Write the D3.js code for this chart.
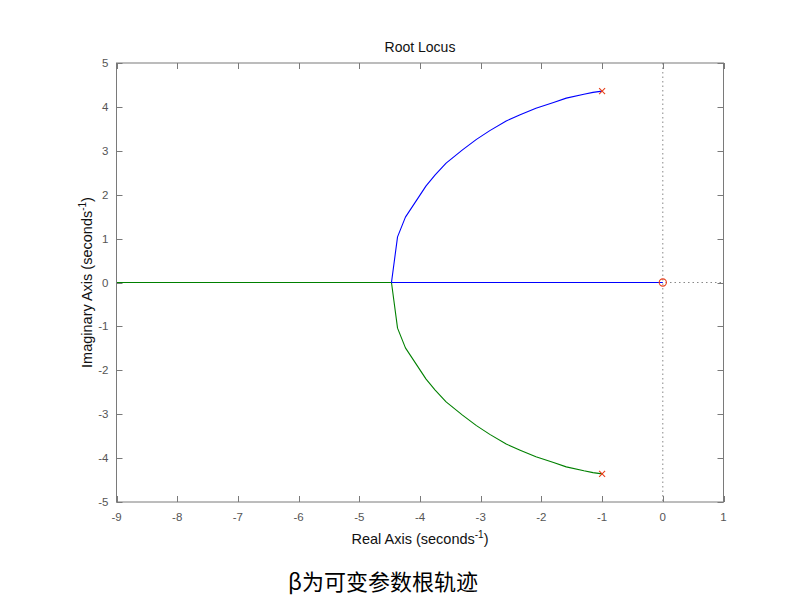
<!DOCTYPE html>
<html><head><meta charset="utf-8">
<script src="https://cdn.jsdelivr.net/npm/d3@7"></script>
<style>body{margin:0;background:#fff;} svg{display:block;}</style>
</head><body>
<svg id="c" width="800" height="612"></svg>
<script>
// Data
const xTicks = [-9,-8,-7,-6,-5,-4,-3,-2,-1,0,1];
const yTicks = [-5,-4,-3,-2,-1,0,1,2,3,4,5];
const xDomain = [-9, 1];
const yDomain = [-5, 5];
// upper branch (blue): pole -> breakaway -> zero
const blueRe = [-1.0, -1.15, -1.30, -1.59, -1.80, -2.09, -2.35, -2.58, -2.85, -3.07, -3.30, -3.57, -3.75, -3.90, -4.24, -4.37, -4.47, -3.0, -1.5, 0.0];
const blueIm = [4.36, 4.33, 4.29, 4.20, 4.10, 3.97, 3.82, 3.68, 3.46, 3.26, 3.02, 2.72, 2.45, 2.20, 1.49, 1.04, 0.0, 0.0, 0.0, 0.0];
// lower branch (green): pole -> breakaway -> -infinity
const greenRe = [-1.0, -1.15, -1.30, -1.59, -1.80, -2.09, -2.35, -2.58, -2.85, -3.07, -3.30, -3.57, -3.75, -3.90, -4.24, -4.37, -4.47, -6.0, -8.0, -9.2];
const greenIm = [-4.36, -4.33, -4.29, -4.20, -4.10, -3.97, -3.82, -3.68, -3.46, -3.26, -3.02, -2.72, -2.45, -2.20, -1.49, -1.04, 0.0, 0.0, 0.0, 0.0];
const polesRe = [-1, -1];
const polesIm = [4.36, -4.36];
const zerosRe = [0];
const zerosIm = [0];
const title = "Root Locus";
const caption = "β为可变参数根轨迹";

const svg = d3.select("#c");
const L = 116.5, R = 723.5, T = 63, B = 502;
const x = d3.scaleLinear().domain(xDomain).range([L, R]);
const y = d3.scaleLinear().domain(yDomain).range([B, T]);
const tickTextCol = "#555";
const font = "Liberation Sans, Arial, sans-serif";

// dotted zero lines
svg.append("line").attr("x1", x(0)).attr("x2", x(0)).attr("y1", T).attr("y2", B)
  .attr("stroke", "#888").attr("stroke-width", 1).attr("stroke-dasharray", "1.5,3");
svg.append("line").attr("x1", L).attr("x2", R).attr("y1", y(0)).attr("y2", y(0))
  .attr("stroke", "#888").attr("stroke-width", 1).attr("stroke-dasharray", "1.5,3");

svg.append("clipPath").attr("id","clp").append("rect")
  .attr("x", L).attr("y", T).attr("width", R-L).attr("height", B-T);

const line = d3.line().x(d => x(d[0])).y(d => y(d[1]));
const g = svg.append("g").attr("clip-path", "url(#clp)");
g.append("path").datum(greenRe.map((v,i)=>[v, greenIm[i]])).attr("d", line)
  .attr("fill","none").attr("stroke","#008000").attr("stroke-width",1.1).attr("stroke-linejoin","round");
g.append("path").datum(blueRe.map((v,i)=>[v, blueIm[i]])).attr("d", line)
  .attr("fill","none").attr("stroke","#0000ff").attr("stroke-width",1.1).attr("stroke-linejoin","round");

// poles (x) and zeros (o)
polesRe.forEach((v,i) => {
  const cx = x(v), cy = y(polesIm[i]), s = 3;
  g.append("path").attr("d", `M${cx-s},${cy-s}L${cx+s},${cy+s}M${cx-s},${cy+s}L${cx+s},${cy-s}`)
    .attr("stroke","#e8401c").attr("stroke-width",1.1).attr("fill","none");
});
zerosRe.forEach((v,i) => {
  g.append("circle").attr("cx", x(v)).attr("cy", y(zerosIm[i])).attr("r", 3.6)
    .attr("fill","none").attr("stroke","#e8401c").attr("stroke-width",1.1);
});

// axes box
const tl = 6;
const ax = svg.append("g");
ax.append("rect").attr("x", L).attr("y", T).attr("width", R-L).attr("height", B-T)
  .attr("fill","none").attr("stroke", "#7a7a7a").attr("stroke-width", 1);
xTicks.forEach(t => {
  const px = Math.round(x(t)) + 0.5;
  ax.append("line").attr("x1",px).attr("x2",px).attr("y1",B).attr("y2",B-tl).attr("stroke","#7a7a7a");
  ax.append("line").attr("x1",px).attr("x2",px).attr("y1",T).attr("y2",T+tl).attr("stroke","#7a7a7a");
  ax.append("text").attr("x", x(t)).attr("y", B + 19).attr("text-anchor","middle")
    .attr("font-family",font).attr("font-size", 11.5)
    .attr("fill", tickTextCol).text(t);
});
yTicks.forEach(t => {
  const py = Math.round(y(t)) + 0.5;
  ax.append("line").attr("x1",L).attr("x2",L+tl).attr("y1",py).attr("y2",py).attr("stroke","#7a7a7a");
  ax.append("line").attr("x1",R).attr("x2",R-tl).attr("y1",py).attr("y2",py).attr("stroke","#7a7a7a");
  ax.append("text").attr("x", L - 8).attr("y", y(t) + 4).attr("text-anchor","end")
    .attr("font-family",font).attr("font-size", 11.5)
    .attr("fill", tickTextCol).text(t);
});

// title
svg.append("text").attr("x", (L+R)/2).attr("y", 52).attr("text-anchor","middle")
  .attr("font-family",font).attr("font-size", 14)
  .attr("fill", "#111").text(title);

// x label
const xl = svg.append("text").attr("x", (L+R)/2).attr("y", 544).attr("text-anchor","middle")
  .attr("font-family",font).attr("font-size", 14.5).attr("fill","#111");
xl.append("tspan").text("Real Axis (seconds");
xl.append("tspan").attr("dy", -6).attr("font-size", 10).text("-1");
xl.append("tspan").attr("dy", 6).text(")");

// y label
const yl = svg.append("text").attr("transform", `translate(92,${(T+B)/2}) rotate(-90)`)
  .attr("text-anchor","middle")
  .attr("font-family",font).attr("font-size", 14.5).attr("fill","#111");
yl.append("tspan").text("Imaginary Axis (seconds");
yl.append("tspan").attr("dy", -6).attr("font-size", 10).text("-1");
yl.append("tspan").attr("dy", 6).text(")");

// caption
svg.append("text").attr("x", 383).attr("y", 590).attr("text-anchor","middle")
  .attr("font-family","Noto Sans CJK SC, sans-serif").attr("font-size", 22)
  .attr("fill", "#000").text(caption);
</script>
</body></html>
